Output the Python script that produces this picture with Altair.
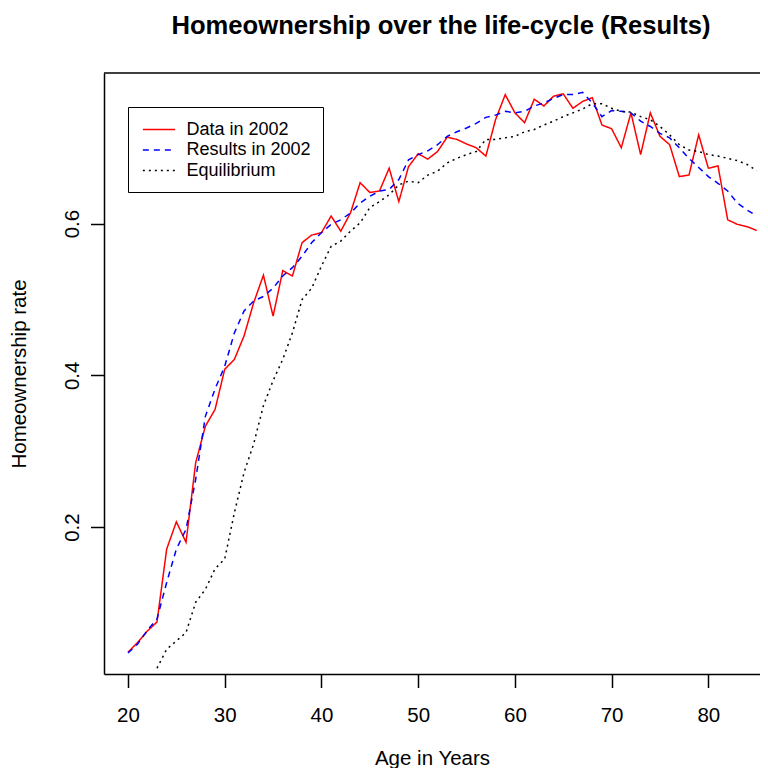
import altair as alt
import pandas as pd

# ---------------- data ----------------
ages = list(range(20, 86))
data_2002 = [
    0.035, 0.048, 0.063, 0.075, 0.171, 0.207, 0.180, 0.285, 0.333, 0.355,
    0.408, 0.421, 0.452, 0.496, 0.532, 0.478, 0.538, 0.531, 0.575, 0.585,
    0.588, 0.610, 0.590, 0.614, 0.654, 0.641, 0.643, 0.673, 0.629, 0.675,
    0.692, 0.685, 0.695, 0.714, 0.711, 0.705, 0.700, 0.689, 0.737, 0.770,
    0.746, 0.733, 0.764, 0.755, 0.768, 0.771, 0.752, 0.761, 0.766, 0.730,
    0.725, 0.700, 0.746, 0.691, 0.746, 0.715, 0.704, 0.662, 0.664, 0.717,
    0.673, 0.676, 0.605, 0.599, 0.596, 0.591,
]
results_2002 = [
    0.034, 0.046, 0.064, 0.079, 0.127, 0.171, 0.197, 0.263, 0.346, 0.382,
    0.412, 0.456, 0.485, 0.498, 0.504, 0.515, 0.531, 0.542, 0.557, 0.575,
    0.588, 0.599, 0.605, 0.614, 0.627, 0.636, 0.643, 0.645, 0.658, 0.684,
    0.691, 0.696, 0.704, 0.715, 0.721, 0.726, 0.732, 0.740, 0.743, 0.748,
    0.746, 0.748, 0.755, 0.759, 0.765, 0.770, 0.770, 0.773, 0.759, 0.741,
    0.749, 0.748, 0.746, 0.735, 0.728, 0.719, 0.713, 0.700, 0.686, 0.674,
    0.662, 0.653, 0.643, 0.627, 0.618, 0.610,
]
eq_ages = list(range(23, 86))
equilibrium = [
    0.014, 0.039, 0.050, 0.061, 0.101, 0.118, 0.145, 0.158, 0.219, 0.272,
    0.310, 0.360, 0.393, 0.421, 0.456, 0.500, 0.515, 0.544, 0.570, 0.577,
    0.590, 0.601, 0.621, 0.629, 0.638, 0.651, 0.656, 0.654, 0.664, 0.669,
    0.680, 0.686, 0.691, 0.695, 0.711, 0.711, 0.713, 0.715, 0.721, 0.724,
    0.730, 0.735, 0.741, 0.746, 0.751, 0.758, 0.758, 0.752, 0.748, 0.747,
    0.741, 0.737, 0.728, 0.717, 0.704, 0.697, 0.695, 0.691, 0.689, 0.686,
    0.683, 0.678, 0.670,
]

series_names = ["Data in 2002", "Results in 2002", "Equilibrium"]
series_colors = ["#FF0000", "#0000FF", "#000000"]
series_dashes = [[1, 0], [6, 5], [2, 4]]

x_ticks = [20, 30, 40, 50, 60, 70, 80]
y_ticks = [0.2, 0.4, 0.6]
x_domain = [17.52, 85.34]
y_domain = [0.0064, 0.7985]

title_text = "Homeownership over the life-cycle (Results)"
x_title = "Age in Years"
y_title = "Homeownership rate"

# ---------------- tables ----------------
df = pd.concat([
    pd.DataFrame({"age": ages, "rate": data_2002, "series": series_names[0]}),
    pd.DataFrame({"age": ages, "rate": results_2002, "series": series_names[1]}),
    pd.DataFrame({"age": eq_ages, "rate": equilibrium, "series": series_names[2]}),
], ignore_index=True)
top_df = pd.DataFrame({"rate": [y_domain[1]]})

FONT = "Liberation Sans"

legend = alt.Legend(
    title=None,
    orient="none",
    legendX=24,
    legendY=34,
    direction="vertical",
    strokeColor="black",
    fillColor="white",
    padding=12,
    cornerRadius=0,
    symbolType="M-1.7,0H1.7",
    symbolSize=361,
    symbolStrokeWidth=1.6,
    symbolOffset=8.5,
    labelOffset=17,
    labelFont=FONT,
    labelFontSize=18,
    labelColor="black",
    rowPadding=0.5,
)

x_enc = alt.X(
    "age:Q",
    scale=alt.Scale(domain=x_domain, nice=False, zero=False),
    axis=alt.Axis(values=x_ticks, format="d", title=x_title,
                  labelPadding=18, titlePadding=22, labelFlush=False),
)
y_enc = alt.Y(
    "rate:Q",
    scale=alt.Scale(domain=y_domain, nice=False, zero=False),
    axis=alt.Axis(values=y_ticks, format=".1f", title=y_title,
                  labelAngle=270, labelAlign="center", labelBaseline="alphabetic",
                  labelPadding=12.5, titlePadding=33, labelFlush=False),
)

lines = alt.Chart(df).mark_line(strokeWidth=1.5, clip=True).encode(
    x=x_enc,
    y=y_enc,
    color=alt.Color("series:N", scale=alt.Scale(domain=series_names, range=series_colors),
                    legend=legend),
    strokeDash=alt.StrokeDash("series:N", scale=alt.Scale(domain=series_names, range=series_dashes),
                              legend=legend),
)

top_border = alt.Chart(top_df).mark_rule(color="black", strokeWidth=1.5).encode(
    y=alt.Y("rate:Q"),
)

chart = alt.layer(lines, top_border).properties(
    width=656,
    height=601,
    title=alt.TitleParams(title_text, font=FONT, fontSize=25.6, fontWeight="bold",
                          color="black", anchor="middle", dx=9, offset=33),
    autosize=alt.AutoSizeParams(type="none"),
    padding={"left": 96, "top": 65, "right": 0, "bottom": 94},
    background="white",
).configure_view(
    stroke=None,
).configure_axis(
    grid=False,
    domainColor="black",
    domainWidth=1.5,
    tickColor="black",
    tickWidth=1.5,
    tickSize=13.5,
    labelFont=FONT,
    labelFontSize=20.5,
    labelColor="black",
    titleFont=FONT,
    titleFontSize=20.5,
    titleFontWeight="normal",
    titleColor="black",
)

chart.save("out.html", embed_options={"renderer": "svg", "actions": False})
